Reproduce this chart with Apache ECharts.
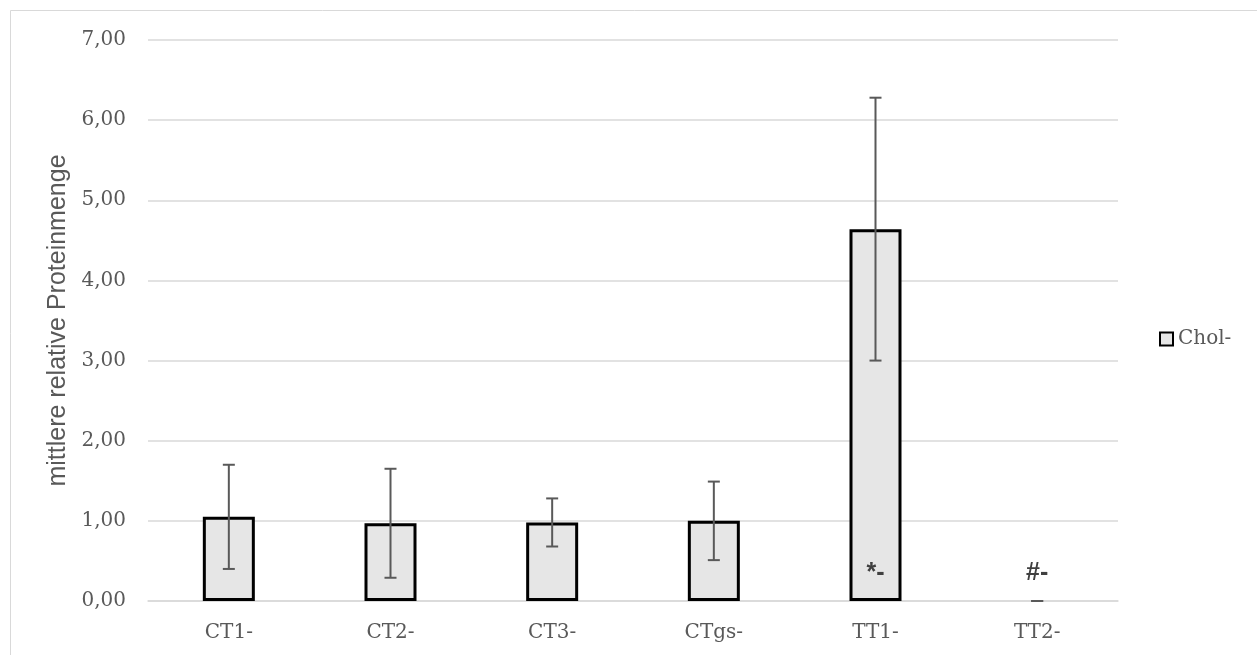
<!DOCTYPE html>
<html>
<head>
<meta charset="utf-8">
<script src="https://cdn.jsdelivr.net/npm/echarts@6/dist/echarts.min.js"></script>
<style>
  html, body { margin: 0; padding: 0; background: #fff; }
  #chart { width: 1257px; height: 655px; }
</style>
</head>
<body>
<div id="chart"></div>
<script>
// ---- data ----
const categories = ['CT1-', 'CT2-', 'CT3-', 'CTgs-', 'TT1-', 'TT2-'];
const meanValues = [1.05, 0.97, 0.98, 1.00, 4.64, 0.00];
const sdValues   = [0.65, 0.68, 0.30, 0.49, 1.64, 0.00];
const annotations = ['', '', '', '', '*-', '#-'];
const seriesName = 'Chol-';
const yTicks = { min: 0, max: 7, interval: 1 };

// ---- chart ----
const chart = echarts.init(document.getElementById('chart'), null, { renderer: 'canvas' });

const barData = meanValues.map(v => v === 0
  ? { value: v, itemStyle: { borderWidth: 0 } }
  : v);
const errData = meanValues.map((m, i) => [i, m - sdValues[i], m + sdValues[i]]);

const option = {
  animation: false,
  backgroundColor: '#ffffff',
  graphic: [{
    type: 'rect',
    shape: { x: 10.5, y: 10.5, width: 1400, height: 800 },
    style: { fill: 'none', stroke: '#d9d9d9', lineWidth: 1 },
    silent: true
  }],
  grid: { left: 148, right: 139, top: 40, bottom: 54, containLabel: false },
  legend: {
    left: 1154, top: 324,
    orient: 'vertical',
    icon: 'rect',
    itemWidth: 13, itemHeight: 13, itemGap: 6,
    textStyle: { fontFamily: 'DejaVu Serif', fontSize: 20, color: '#595959' },
    data: [seriesName]
  },
  xAxis: {
    type: 'category',
    data: categories,
    axisLine: { lineStyle: { color: '#d9d9d9', width: 1.5 } },
    axisTick: { show: false },
    axisLabel: { fontFamily: 'DejaVu Serif', fontSize: 20, color: '#595959', margin: 22 }
  },
  yAxis: {
    type: 'value',
    min: yTicks.min, max: yTicks.max, interval: yTicks.interval,
    name: 'mittlere relative Proteinmenge',
    nameLocation: 'middle',
    nameGap: 74,
    nameTextStyle: { fontFamily: 'Liberation Sans', fontSize: 25, color: '#595959' },
    axisLine: { show: false },
    axisTick: { show: false },
    splitLine: { lineStyle: { color: '#d9d9d9', width: 1.5 } },
    axisLabel: {
      fontFamily: 'DejaVu Serif', fontSize: 20, color: '#595959', margin: 22,
      formatter: v => v.toFixed(2).replace('.', ',')
    }
  },
  series: [
    {
      name: seriesName,
      type: 'bar',
      data: barData,
      barWidth: 52,
      itemStyle: { color: '#e6e6e6', borderColor: '#000000', borderWidth: 3 },
      label: {
        show: true,
        position: 'insideBottom',
        distance: 15,
        formatter: p => annotations[p.dataIndex],
        fontFamily: 'Liberation Sans', fontWeight: 'bold', fontSize: 25, color: '#404040'
      },
      z: 2
    },
    {
      name: 'err',
      type: 'custom',
      data: errData,
      z: 5,
      renderItem: (params, api) => {
        const x = api.coord([api.value(0), 0])[0];
        const yLo = api.coord([api.value(0), api.value(1)])[1];
        const yHi = api.coord([api.value(0), api.value(2)])[1];
        const cap = 6;
        const style = { stroke: '#595959', lineWidth: 2 };
        return {
          type: 'group',
          children: [
            { type: 'line', shape: { x1: x, y1: yLo, x2: x, y2: yHi }, style },
            { type: 'line', shape: { x1: x - cap, y1: yHi, x2: x + cap, y2: yHi }, style },
            { type: 'line', shape: { x1: x - cap, y1: yLo, x2: x + cap, y2: yLo }, style }
          ]
        };
      },
      silent: true
    }
  ]
};
chart.setOption(option);
</script>
</body>
</html>
